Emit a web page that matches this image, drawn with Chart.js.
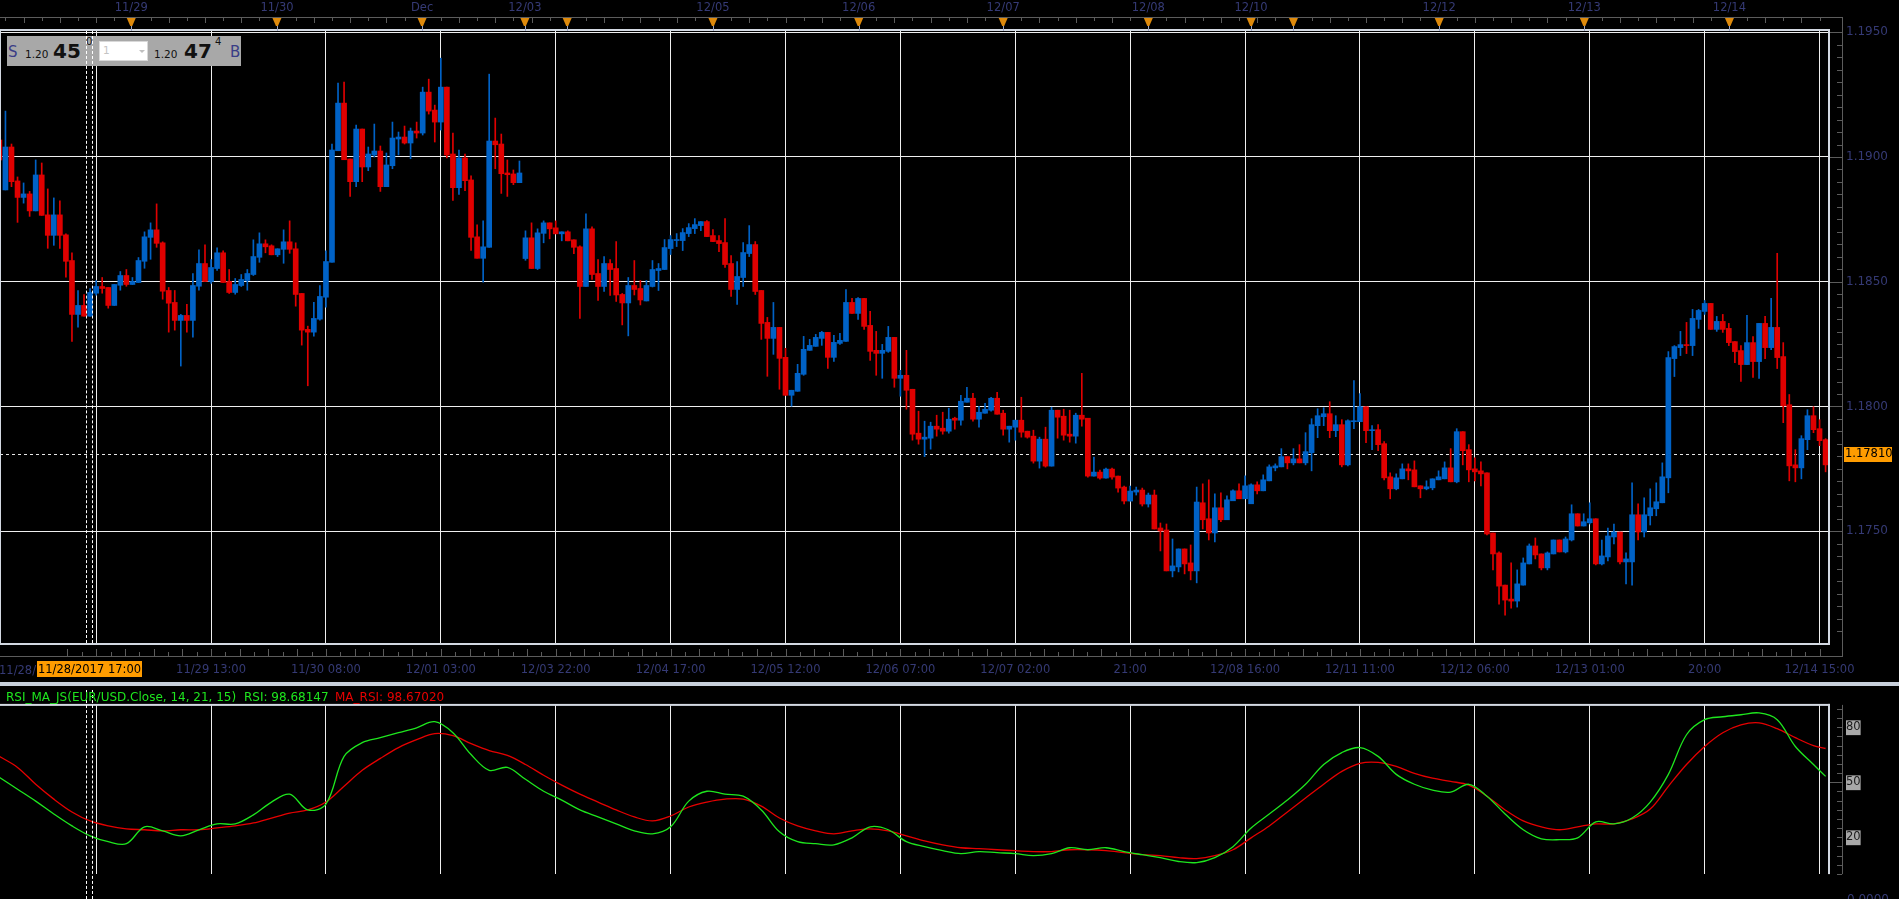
<!DOCTYPE html>
<html><head><meta charset="utf-8">
<script src="https://cdn.jsdelivr.net/npm/chart.js@4.4.0/dist/chart.umd.min.js"></script>
<style>
html,body{margin:0;padding:0;background:#000;overflow:hidden;}
body{width:1899px;height:899px;position:relative;font-family:"DejaVu Sans",sans-serif;}
canvas{position:absolute;left:0;}
#c1{top:0;}
#c2{top:680px;}
.abs{position:absolute;white-space:nowrap;}
</style></head><body>
<canvas id="c1" width="1899" height="686"></canvas>
<canvas id="c2" width="1899" height="219"></canvas>

<!-- quote box -->
<div class="abs" style="left:7px;top:36px;width:234px;height:30px;background:#a8a8a8;"></div>
<div class="abs" style="left:99px;top:41px;width:49px;height:20px;background:#fff;border:1px solid #d8d8d8;box-sizing:border-box;"></div>
<span class="abs" style="left:103px;top:45px;font-size:10.5px;line-height:10.5px;color:#c4c4c4;">1</span>
<div class="abs" style="left:139px;top:50px;width:0;height:0;border-left:3px solid transparent;border-right:3px solid transparent;border-top:3px solid #c0c0c0;"></div>
<span class="abs" style="left:8px;top:45px;font-size:15px;line-height:15px;color:#3a3d86;">S</span>
<span class="abs" style="left:25px;top:49px;font-size:10.5px;line-height:10.5px;color:#111;">1.20</span>
<span class="abs" style="left:53px;top:41px;font-size:20px;line-height:20px;font-weight:bold;color:#111;">45</span>
<span class="abs" style="left:86px;top:36.5px;font-size:10px;line-height:10px;color:#111;">0</span>
<span class="abs" style="left:154px;top:49px;font-size:10.5px;line-height:10.5px;color:#111;">1.20</span>
<span class="abs" style="left:184px;top:41px;font-size:20px;line-height:20px;font-weight:bold;color:#111;">47</span>
<span class="abs" style="left:215px;top:36.5px;font-size:10px;line-height:10px;color:#111;">4</span>
<span class="abs" style="left:230px;top:45px;font-size:15px;line-height:15px;color:#3a3d86;">B</span>

<!-- crosshair -->
<div class="abs" style="left:86px;top:31px;width:0;height:612px;border-left:1px dashed #fff;"></div>
<div class="abs" style="left:92px;top:31px;width:0;height:612px;border-left:1px dashed #fff;"></div>
<div class="abs" style="left:86px;top:690px;width:0;height:209px;border-left:1px dashed #fff;"></div>
<div class="abs" style="left:92px;top:690px;width:0;height:209px;border-left:1px dashed #fff;"></div>

<span class="abs" style="left:-1px;top:663px;font-size:11.5px;line-height:14px;color:#353a75;">11/28/</span>
<div class="abs" style="left:37px;top:661px;width:105px;height:16px;background:#ff9c00;color:#000;font-size:11.5px;line-height:16px;text-align:center;">11/28/2017 17:00</div>

<!-- RSI legend -->
<span class="abs" style="left:6px;top:690px;font-size:12px;line-height:14px;color:#1ee61e;">RSI_MA_JS(EUR/USD.Close, 14, 21, 15)</span>
<span class="abs" style="left:244px;top:690px;font-size:12px;line-height:14px;color:#1ee61e;">RSI: 98.68147</span>
<span class="abs" style="left:335px;top:690px;font-size:12px;line-height:14px;color:#e60000;">MA_RSI: 98.67020</span>
<span class="abs" style="left:1847px;top:892px;font-size:12px;line-height:14px;color:#353a75;">0.0000</span>

<script>
// ---------------- DATA ----------------
const candleStart = -16; // index of first candle (0 = 11/28 18:00 grid line)
const opens = [1.19068,1.18868,1.19040,1.18904,1.18838,1.18852,1.18784,1.18928,1.18768,1.18686,1.18768,1.18688,1.18585,1.18369,1.18405,1.18362,
1.18454,1.18481,1.18477,1.18405,1.18486,1.18525,1.18489,1.18497,1.18582,1.18678,
1.18708,1.18656,1.18465,1.18417,1.18345,1.18365,1.18345,1.18482,1.18573,1.18501,
1.18553,1.18616,1.18501,1.18457,1.18485,1.18505,1.18529,1.18598,1.18652,1.18644,
1.18608,1.18630,1.18660,1.18632,1.18453,1.18309,1.18298,1.18350,1.18438,1.18578,
1.19025,1.19216,1.18992,1.18901,1.19112,1.18960,1.19008,1.19024,1.18881,1.18965,
1.19072,1.19080,1.19056,1.19104,1.19096,1.19260,1.19188,1.19140,1.19280,1.19012,
1.18877,1.18996,1.18908,1.18680,1.18594,1.18638,1.19064,1.19052,1.18936,1.18932,
1.18897,1.18593,1.18676,1.18553,1.18694,1.18736,1.18716,1.18692,1.18700,1.18668,
1.18640,1.18481,1.18712,1.18533,1.18481,1.18573,1.18553,1.18449,1.18415,1.18485,
1.18473,1.18423,1.18481,1.18545,1.18549,1.18633,1.18665,1.18665,1.18693,1.18713,
1.18725,1.18741,1.18685,1.18665,1.18657,1.18573,1.18469,1.18517,1.18613,1.18649,
1.18465,1.18337,1.18273,1.18317,1.18197,1.18045,1.18061,1.18129,1.18225,1.18241,
1.18273,1.18297,1.18197,1.18253,1.18261,1.18417,1.18373,1.18433,1.18325,1.18225,
1.18213,1.18221,1.18277,1.18113,1.18125,1.18069,1.17893,1.17869,1.17873,1.17921,
1.17913,1.17901,1.17953,1.17945,1.18017,1.18033,1.17949,1.17973,1.17985,1.18033,
1.17973,1.17909,1.17917,1.17945,1.17901,1.17881,1.17781,1.17869,1.17761,1.17985,
1.17961,1.17889,1.17881,1.17965,1.17953,1.17721,1.17737,1.17713,1.17749,1.17721,
1.17677,1.17621,1.17657,1.17665,1.17609,1.17645,1.17513,1.17505,1.17341,1.17357,
1.17429,1.17373,1.17341,1.17614,1.17550,1.17493,1.17594,1.17546,1.17622,1.17662,
1.17630,1.17610,1.17686,1.17662,1.17702,1.17754,1.17758,1.17799,1.17774,1.17790,
1.17774,1.17815,1.17923,1.17959,1.17971,1.17903,1.17927,1.17766,1.17939,1.17939,
1.17999,1.17903,1.17907,1.17851,1.17718,1.17670,1.17710,1.17750,1.17746,1.17682,
1.17670,1.17674,1.17706,1.17710,1.17754,1.17698,1.17899,1.17827,1.17750,1.17742,
1.17734,1.17493,1.17413,1.17284,1.17228,1.17220,1.17284,1.17369,1.17441,1.17409,
1.17353,1.17409,1.17465,1.17417,1.17465,1.17570,1.17521,1.17534,1.17550,1.17369,
1.17397,1.17477,1.17497,1.17377,1.17377,1.17566,1.17497,1.17562,1.17590,1.17614,
1.17714,1.18192,1.18236,1.18248,1.18244,1.18349,1.18381,1.18413,1.18309,1.18341,
1.18313,1.18260,1.18224,1.18168,1.18256,1.18180,1.18333,1.18236,1.18317,1.18200,
1.18007,1.17766,1.17754,1.17867,1.17963,1.17911,1.17867];
const highs = [1.19081,1.19184,1.19052,1.18920,1.18896,1.18862,1.18988,1.18976,1.18872,1.18836,1.18824,1.18692,1.18616,1.18465,1.18449,1.18473,
1.18505,1.18517,1.18477,1.18489,1.18541,1.18549,1.18517,1.18597,1.18700,1.18736,
1.18812,1.18660,1.18477,1.18465,1.18369,1.18409,1.18533,1.18628,1.18648,1.18589,
1.18636,1.18624,1.18549,1.18513,1.18529,1.18549,1.18668,1.18696,1.18668,1.18648,
1.18632,1.18708,1.18744,1.18656,1.18453,1.18322,1.18417,1.18485,1.18624,1.19052,
1.19296,1.19300,1.18992,1.19128,1.19112,1.19040,1.19132,1.19044,1.19016,1.19140,
1.19100,1.19124,1.19116,1.19140,1.19280,1.19312,1.19208,1.19396,1.19280,1.19096,
1.19028,1.19012,1.18924,1.18728,1.18744,1.19332,1.19156,1.19092,1.18988,1.18948,
1.18984,1.18704,1.18736,1.18712,1.18744,1.18736,1.18744,1.18700,1.18704,1.18668,
1.18644,1.18772,1.18720,1.18589,1.18601,1.18589,1.18661,1.18453,1.18517,1.18585,
1.18505,1.18505,1.18585,1.18573,1.18669,1.18685,1.18693,1.18713,1.18733,1.18753,
1.18741,1.18745,1.18709,1.18685,1.18753,1.18605,1.18581,1.18657,1.18725,1.18661,
1.18465,1.18357,1.18417,1.18317,1.18233,1.18065,1.18169,1.18281,1.18269,1.18289,
1.18301,1.18297,1.18285,1.18293,1.18469,1.18433,1.18437,1.18433,1.18381,1.18301,
1.18249,1.18321,1.18277,1.18145,1.18225,1.18069,1.17981,1.17941,1.17937,1.17965,
1.17977,1.17993,1.17957,1.18045,1.18077,1.18053,1.18001,1.18013,1.18037,1.18057,
1.17985,1.17921,1.17945,1.18037,1.17901,1.17905,1.17877,1.17917,1.17997,1.17985,
1.17989,1.17985,1.17973,1.18133,1.17953,1.17797,1.17745,1.17753,1.17753,1.17721,
1.17681,1.17681,1.17677,1.17673,1.17653,1.17665,1.17533,1.17529,1.17469,1.17429,
1.17429,1.17445,1.17677,1.17690,1.17706,1.17650,1.17654,1.17642,1.17666,1.17690,
1.17722,1.17690,1.17698,1.17726,1.17766,1.17770,1.17831,1.17799,1.17831,1.17847,
1.17895,1.17951,1.17991,1.17995,1.18019,1.17963,1.17947,1.17947,1.18104,1.18052,
1.17999,1.17923,1.17927,1.17859,1.17734,1.17730,1.17770,1.17770,1.17782,1.17682,
1.17702,1.17710,1.17742,1.17778,1.17831,1.17911,1.17899,1.17847,1.17794,1.17778,
1.17734,1.17493,1.17417,1.17284,1.17373,1.17345,1.17393,1.17449,1.17473,1.17409,
1.17417,1.17465,1.17465,1.17477,1.17606,1.17570,1.17570,1.17614,1.17550,1.17465,
1.17513,1.17529,1.17497,1.17413,1.17694,1.17610,1.17634,1.17670,1.17694,1.17774,
1.18220,1.18244,1.18301,1.18337,1.18389,1.18389,1.18425,1.18413,1.18361,1.18369,
1.18333,1.18260,1.18244,1.18365,1.18280,1.18333,1.18361,1.18433,1.18614,1.18256,
1.18048,1.17827,1.17883,1.17987,1.17999,1.17947,1.17871];
const lows = [1.18981,1.18868,1.18881,1.18738,1.18815,1.18762,1.18784,1.18766,1.18634,1.18646,1.18634,1.18518,1.18261,1.18318,1.18362,1.18362,
1.18446,1.18454,1.18394,1.18405,1.18466,1.18482,1.18489,1.18497,1.18554,1.18590,
1.18638,1.18430,1.18298,1.18306,1.18162,1.18298,1.18278,1.18466,1.18501,1.18493,
1.18545,1.18497,1.18453,1.18450,1.18481,1.18466,1.18525,1.18578,1.18616,1.18608,
1.18601,1.18574,1.18614,1.18402,1.18246,1.18083,1.18282,1.18346,1.18398,1.18578,
1.19025,1.18989,1.18842,1.18881,1.18901,1.18945,1.19000,1.18862,1.18881,1.18953,
1.19008,1.19052,1.18993,1.19076,1.19088,1.19172,1.19060,1.19108,1.18996,1.18826,
1.18850,1.18865,1.18626,1.18594,1.18498,1.18638,1.18953,1.18854,1.18842,1.18889,
1.18897,1.18586,1.18553,1.18549,1.18656,1.18672,1.18692,1.18664,1.18664,1.18612,
1.18353,1.18481,1.18509,1.18425,1.18461,1.18445,1.18421,1.18327,1.18283,1.18447,
1.18407,1.18423,1.18479,1.18465,1.18549,1.18609,1.18641,1.18625,1.18681,1.18693,
1.18705,1.18681,1.18661,1.18621,1.18557,1.18441,1.18409,1.18481,1.18601,1.18449,
1.18269,1.18121,1.18209,1.18069,1.18045,1.18001,1.18061,1.18125,1.18225,1.18241,
1.18245,1.18153,1.18181,1.18249,1.18261,1.18373,1.18349,1.18309,1.18185,1.18125,
1.18113,1.18217,1.18077,1.18041,1.17989,1.17865,1.17849,1.17799,1.17829,1.17881,
1.17889,1.17893,1.17909,1.17925,1.18017,1.17941,1.17917,1.17973,1.17981,1.17969,
1.17885,1.17857,1.17865,1.17877,1.17873,1.17773,1.17753,1.17757,1.17761,1.17873,
1.17865,1.17857,1.17853,1.17921,1.17717,1.17721,1.17709,1.17713,1.17709,1.17657,
1.17609,1.17621,1.17645,1.17601,1.17597,1.17509,1.17421,1.17341,1.17317,1.17337,
1.17329,1.17305,1.17293,1.17509,1.17465,1.17457,1.17538,1.17546,1.17622,1.17630,
1.17630,1.17610,1.17650,1.17662,1.17702,1.17742,1.17758,1.17750,1.17766,1.17774,
1.17766,1.17742,1.17875,1.17923,1.17875,1.17879,1.17758,1.17762,1.17911,1.17939,
1.17855,1.17827,1.17823,1.17706,1.17630,1.17666,1.17710,1.17706,1.17678,1.17634,
1.17666,1.17666,1.17706,1.17710,1.17698,1.17694,1.17766,1.17698,1.17702,1.17682,
1.17485,1.17345,1.17208,1.17164,1.17192,1.17196,1.17284,1.17369,1.17389,1.17345,
1.17345,1.17409,1.17417,1.17413,1.17461,1.17521,1.17521,1.17529,1.17365,1.17365,
1.17381,1.17449,1.17369,1.17289,1.17284,1.17465,1.17477,1.17525,1.17562,1.17614,
1.17654,1.18120,1.18204,1.18212,1.18204,1.18313,1.18369,1.18309,1.18301,1.18297,
1.18244,1.18176,1.18100,1.18168,1.18116,1.18112,1.18192,1.18228,1.18152,1.17935,
1.17702,1.17698,1.17710,1.17827,1.17895,1.17843,1.17738];
const closes = [1.18988,1.19040,1.18901,1.18838,1.18852,1.18784,1.18928,1.18766,1.18686,1.18768,1.18686,1.18582,1.18369,1.18405,1.18362,1.18457,
1.18481,1.18473,1.18405,1.18489,1.18525,1.18489,1.18501,1.18585,1.18680,1.18708,
1.18654,1.18462,1.18414,1.18345,1.18365,1.18345,1.18485,1.18573,1.18501,1.18557,
1.18616,1.18497,1.18457,1.18489,1.18509,1.18533,1.18601,1.18652,1.18640,1.18608,
1.18632,1.18660,1.18630,1.18449,1.18306,1.18298,1.18353,1.18441,1.18581,1.19028,
1.19216,1.18989,1.18901,1.19112,1.18960,1.19012,1.19024,1.18881,1.18968,1.19076,
1.19080,1.19056,1.19104,1.19096,1.19260,1.19184,1.19140,1.19280,1.19008,1.18877,
1.18996,1.18905,1.18678,1.18594,1.18640,1.19064,1.19049,1.18933,1.18929,1.18897,
1.18936,1.18676,1.18553,1.18696,1.18736,1.18712,1.18692,1.18700,1.18664,1.18638,
1.18481,1.18712,1.18529,1.18481,1.18573,1.18549,1.18447,1.18415,1.18485,1.18469,
1.18427,1.18485,1.18549,1.18553,1.18637,1.18669,1.18669,1.18697,1.18717,1.18729,
1.18741,1.18681,1.18661,1.18653,1.18569,1.18469,1.18521,1.18617,1.18649,1.18461,
1.18333,1.18273,1.18317,1.18193,1.18045,1.18065,1.18133,1.18229,1.18245,1.18277,
1.18297,1.18197,1.18257,1.18265,1.18417,1.18373,1.18433,1.18321,1.18221,1.18213,
1.18225,1.18277,1.18113,1.18125,1.18065,1.17889,1.17869,1.17877,1.17921,1.17909,
1.17901,1.17949,1.17945,1.18021,1.18033,1.17949,1.17977,1.17989,1.18033,1.17969,
1.17909,1.17921,1.17945,1.17897,1.17877,1.17781,1.17869,1.17761,1.17985,1.17957,
1.17885,1.17881,1.17965,1.17949,1.17721,1.17737,1.17713,1.17749,1.17717,1.17673,
1.17621,1.17661,1.17665,1.17609,1.17645,1.17509,1.17501,1.17341,1.17361,1.17429,
1.17369,1.17341,1.17617,1.17546,1.17493,1.17594,1.17546,1.17626,1.17662,1.17630,
1.17682,1.17686,1.17662,1.17706,1.17758,1.17762,1.17799,1.17774,1.17790,1.17774,
1.17819,1.17927,1.17963,1.17971,1.17903,1.17927,1.17766,1.17943,1.17943,1.17999,
1.17903,1.17907,1.17847,1.17714,1.17670,1.17714,1.17750,1.17742,1.17678,1.17670,
1.17678,1.17710,1.17718,1.17754,1.17698,1.17899,1.17823,1.17746,1.17738,1.17730,
1.17489,1.17409,1.17280,1.17224,1.17220,1.17289,1.17373,1.17441,1.17405,1.17353,
1.17413,1.17465,1.17417,1.17469,1.17570,1.17521,1.17538,1.17550,1.17369,1.17401,
1.17481,1.17497,1.17377,1.17389,1.17566,1.17497,1.17566,1.17594,1.17618,1.17718,
1.18196,1.18240,1.18248,1.18244,1.18353,1.18385,1.18413,1.18309,1.18341,1.18309,
1.18256,1.18220,1.18168,1.18256,1.18180,1.18333,1.18236,1.18317,1.18196,1.18003,
1.17762,1.17754,1.17871,1.17963,1.17907,1.17863,1.17766];
const lastPrice = 1.17810;

// bottom time axis (grid every 19 candles)
const gridIdx = [0,19,38,57,76,95,114,133,152,171,190,209,228,247,266,285];
const xTickLabels = ['11/28 18:00','11/29 13:00','11/30 08:00','12/01 03:00','12/03 22:00','12/04 17:00','12/05 12:00','12/06 07:00','12/07 02:00','21:00','12/08 16:00','12/11 11:00','12/12 06:00','12/13 01:00','20:00','12/14 15:00'];
// top day markers
const dayMarkIdx = [5.8,29.9,53.9,70.9,77.9,102,126.1,150,174,191,198,222.1,246.1,270.1];
const dayMarkLabels = ['11/29','11/30','Dec','12/03','','12/05','12/06','12/07','12/08','12/10','','12/12','12/13','12/14'];
const priceTicks = [1.1750,1.1800,1.1850,1.1900,1.1950];

// RSI panel
const rsiIdx = [-16,-13,-10,-7,-4,-1,2,5,8,11,14,17,20,23,26,29,32,35,38,41,44,47,50,53,56,59,62,65,68,71,74,77,80,83,86,89,92,95,98,101,104,107,110,113,116,119,122,125,128,131,134,137,140,143,146,149,152,155,158,161,164,167,170,173,176,179,182,185,188,191,194,197,200,203,206,209,212,215,218,221,224,227,230,233,236,239,242,245,248,251,254,257,260,263,266,269,272,275,278,281,284,286];
const rsiVals = [52.7,46.2,39.7,32.7,26.2,20.8,17.6,16.5,25.7,23.5,20.8,24.1,27.3,27.3,32.2,39.2,43.5,34.9,38.1,64.1,71.6,74.3,77.0,79.7,83.0,77.0,65.1,56.5,58.1,51.6,45.1,40.3,34.9,31.1,27.3,23.5,21.9,25.7,39.7,45.1,43.5,42.4,34.9,23.0,17.6,16.5,15.9,19.7,25.7,24.1,17.6,14.9,12.7,11.1,12.2,11.6,11.1,10.0,11.1,14.3,13.2,14.3,12.2,10.5,8.9,6.8,6.2,8.9,14.9,25.1,32.7,40.3,48.9,59.7,66.2,68.9,64.1,54.3,48.9,45.7,44.6,48.9,42.4,32.7,24.1,19.2,18.7,19.7,28.4,27.3,30.5,39.2,54.3,75.9,84.1,85.7,86.8,87.8,84.1,69.5,59.7,53.2];
const maRsiVals = [64.1,58.1,48.9,40.8,33.8,28.9,26.2,24.6,24.1,23.5,24.1,24.1,25.1,26.2,27.8,30.5,33.2,34.9,39.2,47.8,56.5,63.0,68.9,73.2,76.5,75.4,71.1,67.3,64.6,59.7,53.8,48.4,43.5,39.2,34.9,31.1,28.9,31.6,36.5,39.2,40.8,40.8,37.0,30.5,26.2,23.5,21.9,23.5,24.6,23.5,20.8,18.1,15.9,14.3,13.8,13.2,12.7,12.2,12.2,13.2,13.2,12.7,11.6,10.5,10.0,8.9,8.4,10.0,13.2,19.7,26.2,33.8,41.4,48.9,55.9,60.3,60.8,58.6,54.9,52.2,50.5,48.4,42.4,34.9,28.9,25.7,24.1,25.7,27.3,27.3,30.0,35.4,47.8,59.7,69.5,77.0,81.3,82.4,79.2,74.3,70.0,68.4];
const rsiLevels = [20,50,80];

// ---------------- STYLE ----------------
const X_MIN = -15.9, X_MAX = 286.4;
const RED = '#e00000', BLUE = '#0062c6';
const NAVY = '#353a75';
const AXISGRAY = '#5c5c5c';
const BORDER = '#d3d9e2';
Chart.defaults.font.family = 'DejaVu Sans';

const idx = opens.map((_, k) => candleStart + k);
const cols = idx.map((_, k) => closes[k] >= opens[k] ? BLUE : RED);
const bodyData = idx.map((x, k) => ({x, y: [opens[k], closes[k]]}));
const wickData = idx.map((x, k) => ({x, y: [lows[k], highs[k]]}));

const deco1 = {
  id: 'deco1',
  beforeDatasetsDraw(chart) {
    const {ctx, chartArea: a, scales: {y}} = chart;
    const py = Math.round(y.getPixelForValue(lastPrice)) + 0.5;
    ctx.save();
    ctx.strokeStyle = '#e6e6e6'; ctx.lineWidth = 1; ctx.setLineDash([3, 3]);
    ctx.beginPath(); ctx.moveTo(a.left, py); ctx.lineTo(a.right, py); ctx.stroke();
    ctx.restore();
  },
  afterDraw(chart) {
    const {ctx, chartArea: a, scales: {x, xTop, y}} = chart;
    ctx.save();
    // panel border
    ctx.strokeStyle = BORDER; ctx.lineWidth = 2;
    ctx.strokeRect(0, a.top - 1, a.right + 1, a.bottom - a.top + 2);
    // top axis line + ticks
    ctx.fillStyle = AXISGRAY;
    ctx.fillRect(0, 17, 1843, 1);
    for (let i = -15; i <= 286; i += 3) {
      const px = Math.round(x.getPixelForValue(i));
      const long = (i % 6 === 0);
      ctx.fillRect(px, 18, 1, long ? 5 : 3);
    }
    // day markers
    dayMarkIdx.forEach(v => {
      const px = xTop.getPixelForValue(v);
      ctx.fillStyle = '#9aa3c2';
      ctx.fillRect(Math.round(px), 26, 1, 5);
      ctx.fillStyle = '#de8a0c';
      ctx.beginPath();
      ctx.moveTo(px - 4.5, 18); ctx.lineTo(px + 4.5, 18); ctx.lineTo(px + 1, 26); ctx.lineTo(px - 1, 26);
      ctx.closePath(); ctx.fill();
    });
    // right axis
    ctx.fillStyle = AXISGRAY;
    ctx.fillRect(1842, 17, 1, 640);
    for (let k = 2342; k <= 2390; k++) {
      const py = Math.round(y.getPixelForValue(k * 0.0005));
      if (py < a.top || py > a.bottom) continue;
      if (k % 10 === 0) ctx.fillRect(a.right + 2, py, 1842 - a.right - 2, 1);
      else ctx.fillRect(1837, py, 5, 1);
    }
    // last price tag
    const pp = y.getPixelForValue(lastPrice);
    ctx.fillStyle = '#ff9c00';
    ctx.fillRect(1844, Math.round(pp) - 7, 48, 15);
    ctx.fillStyle = '#000';
    ctx.font = '11.5px "DejaVu Sans"';
    ctx.textBaseline = 'middle'; ctx.textAlign = 'left';
    ctx.fillText(lastPrice.toFixed(5), 1845, Math.round(pp) + 0.5);
    // bottom axis ticks
    ctx.fillStyle = AXISGRAY;
    ctx.fillRect(0, 656, 1843, 1);
    for (let k = -2; k <= 16 * 8; k++) {
      const px = Math.round(x.getPixelForValue(k * 19 / 8));
      if (px < 0 || px > a.right) continue;
      if (k % 2 === 0) ctx.fillRect(px, 649, 1, 7); else ctx.fillRect(px, 652, 1, 4);
    }
    // separator
    ctx.fillStyle = '#c8d0db';
    ctx.fillRect(0, 682, 1899, 4);
    ctx.restore();
  }
};

new Chart(document.getElementById('c1'), {
  type: 'bar',
  data: {
    datasets: [
      {data: bodyData, backgroundColor: cols, barThickness: 5, minBarLength: 1, grouped: false, borderWidth: 0, xAxisID: 'x', yAxisID: 'y'},
      {data: wickData, backgroundColor: cols, barThickness: 1, grouped: false, borderWidth: 0, xAxisID: 'x', yAxisID: 'y'}
    ]
  },
  options: {
    responsive: false, animation: false, devicePixelRatio: 1,
    layout: {padding: 0},
    plugins: {legend: {display: false}, tooltip: {enabled: false}},
    scales: {
      x: {
        type: 'linear', position: 'bottom', min: X_MIN, max: X_MAX, offset: false,
        afterBuildTicks: s => { s.ticks = gridIdx.map(v => ({value: v})); },
        afterFit: s => { s.height = 43; },
        ticks: {autoSkip: false, maxRotation: 0, padding: 20, color: NAVY, font: {size: 11.5},
                callback: (v, i) => xTickLabels[i]},
        grid: {color: '#eeeeee', lineWidth: 1, drawTicks: false, offset: false},
        border: {display: false}
      },
      xTop: {
        type: 'linear', position: 'top', min: X_MIN, max: X_MAX, offset: false,
        afterBuildTicks: s => { s.ticks = dayMarkIdx.map(v => ({value: v})); },
        afterFit: s => { s.height = 31; },
        ticks: {autoSkip: false, maxRotation: 0, padding: 16, color: NAVY, font: {size: 11.5},
                callback: (v, i) => dayMarkLabels[i]},
        grid: {display: false, drawTicks: false, offset: false},
        border: {display: false}
      },
      y: {
        position: 'right', min: 1.17052, max: 1.19505,
        afterBuildTicks: s => { s.ticks = priceTicks.map(v => ({value: v})); },
        afterFit: s => { s.width = 71; },
        ticks: {padding: 18, color: NAVY, font: {size: 12}, callback: v => v.toFixed(4)},
        grid: {color: '#eeeeee', lineWidth: 1, drawTicks: false},
        border: {display: false}
      }
    }
  },
  plugins: [deco1]
});

const deco2 = {
  id: 'deco2',
  afterDraw(chart) {
    const {ctx, chartArea: a, scales: {y}} = chart;
    ctx.save();
    ctx.fillStyle = BORDER;
    ctx.fillRect(0, a.top - 1, 1830, 2);
    ctx.fillRect(1828, a.top - 1, 2, a.bottom - a.top + 1);
    ctx.fillStyle = AXISGRAY;
    ctx.fillRect(1842, a.top, 1, a.bottom - a.top);
    for (let v = 0; v <= 90; v += 5) {
      const py = Math.round(y.getPixelForValue(v));
      ctx.fillRect(1837, py, 5, 1);
    }
    const p50 = Math.round(y.getPixelForValue(50));
    ctx.fillRect(1830, p50, 12, 1);
    ctx.restore();
  }
};

new Chart(document.getElementById('c2'), {
  type: 'line',
  data: {
    datasets: [
      {data: rsiIdx.map((x, k) => ({x, y: rsiVals[k]})), borderColor: '#1ee61e', borderWidth: 1.3, pointRadius: 0, tension: 0.35, fill: false},
      {data: rsiIdx.map((x, k) => ({x, y: maRsiVals[k]})), borderColor: '#e60000', borderWidth: 1.3, pointRadius: 0, tension: 0.35, fill: false}
    ]
  },
  options: {
    responsive: false, animation: false, devicePixelRatio: 1,
    layout: {padding: {top: 9, left: 0, right: 0, bottom: 0}},
    plugins: {legend: {display: false}, tooltip: {enabled: false}},
    scales: {
      x: {
        type: 'linear', min: X_MIN, max: X_MAX, offset: false,
        afterBuildTicks: s => { s.ticks = gridIdx.map(v => ({value: v})); },
        afterFit: s => { s.height = 0; },
        ticks: {display: false},
        grid: {color: '#eeeeee', lineWidth: 1, drawTicks: false, offset: false},
        border: {display: false}
      },
      y: {
        position: 'right', min: -0.07, max: 92.17,
        afterBuildTicks: s => { s.ticks = rsiLevels.map(v => ({value: v})); },
        afterFit: s => { s.width = 71; },
        ticks: {padding: 18, color: '#1a1a1a', font: {size: 11.5}, showLabelBackdrop: true,
                backdropColor: '#a8a8a8', backdropPadding: {left: 0, right: 0, top: 0, bottom: 1}},
        grid: {display: false, drawTicks: false},
        border: {display: false}
      }
    }
  },
  plugins: [deco2]
});
</script>
</body></html>
